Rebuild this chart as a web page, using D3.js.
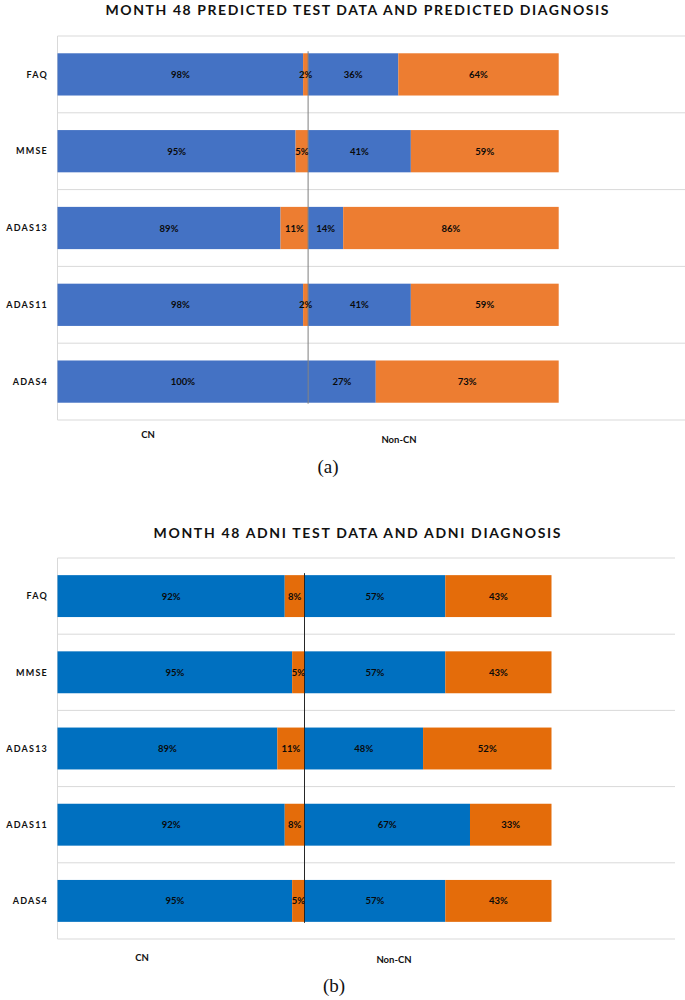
<!DOCTYPE html>
<html>
<head>
<meta charset="utf-8">
<script src="https://cdn.jsdelivr.net/npm/d3@7"></script>
<style>
  body { margin: 0; background: #fff; }
  svg { display: block; }
  text { font-family: Lato, "Open Sans", sans-serif; }
</style>
</head>
<body>
<div id="display"></div>
<script>
// data (percent)
const categories = ["FAQ", "MMSE", "ADAS13", "ADAS11", "ADAS4"];
const groupLabels = ["CN", "Non-CN"];

// chart (a): predicted test data / predicted diagnosis
const predCnAsCn = [98, 95, 89, 98, 100];
const predCnAsNon = [2, 5, 11, 2, 0];
const predNonAsCn = [36, 41, 14, 41, 27];
const predNonAsNon = [64, 59, 86, 59, 73];

// chart (b): ADNI test data / ADNI diagnosis
const adniCnAsCn = [92, 95, 89, 92, 95];
const adniCnAsNon = [8, 5, 11, 8, 5];
const adniNonAsCn = [57, 57, 48, 67, 57];
const adniNonAsNon = [43, 43, 52, 33, 43];

const axisMax = 250;

let svg = d3.select('#display')
    .append('svg')
        .attr('width', 685)
        .attr('height', 1000);

function drawChart(opt) {
    let keys = ['a', 'b', 'c', 'd'];
    let rows = categories.map((c, i) => ({
        cat: c, a: opt.vals[0][i], b: opt.vals[1][i], c: opt.vals[2][i], d: opt.vals[3][i]
    }));
    let stacked = d3.stack().keys(keys)(rows);

    let x = d3.scaleLinear()
        .domain([0, axisMax])
        .range([opt.left, opt.right]);

    let y = d3.scaleBand()
        .domain(categories)
        .range([opt.top, opt.bottom])
        .paddingInner(0.45)
        .paddingOuter(0.225);

    let g = svg.append('g');

    // title
    g.append('text')
        .attr('x', opt.titleX)
        .attr('y', opt.titleY)
        .attr('text-anchor', 'middle')
        .attr('textLength', opt.titleW)
        .attr('lengthAdjust', 'spacing')
        .style('font-size', '14px')
        .style('font-weight', 'bold')
        .style('fill', '#111')
        .text(opt.title);

    // horizontal grid lines at category boundaries
    let step = y.step();
    let bounds = d3.range(categories.length + 1).map(i => opt.top + i * step);
    g.selectAll('.grid')
        .data(bounds)
        .enter()
        .append('line')
            .attr('x1', opt.left)
            .attr('x2', opt.gridEnd)
            .attr('y1', d => d)
            .attr('y2', d => d)
            .style('stroke', '#d9d9d9')
            .style('stroke-width', 1);

    // left axis line
    g.append('line')
        .attr('x1', opt.left).attr('x2', opt.left)
        .attr('y1', opt.top).attr('y2', opt.bottom)
        .style('stroke', '#d9d9d9')
        .style('stroke-width', 1);

    // category labels
    g.selectAll('.cat')
        .data(categories)
        .enter()
        .append('text')
            .attr('x', opt.left - 9.5)
            .attr('y', d => y(d) + y.bandwidth() / 2 + 3.2)
            .attr('text-anchor', 'end')
            .style('font-size', '9px')
            .style('font-weight', 'bold')
            .style('letter-spacing', '1.2px')
            .style('fill', '#111')
            .text(d => d);

    // bars
    let colors = [opt.blue, opt.orange, opt.blue, opt.orange];
    stacked.forEach((layer, k) => {
        let lg = g.append('g');
        lg.selectAll('rect')
            .data(layer)
            .enter()
            .append('rect')
                .attr('x', d => x(d[0]))
                .attr('y', d => y(d.data.cat))
                .attr('width', d => x(d[1]) - x(d[0]))
                .attr('height', y.bandwidth())
                .style('fill', colors[k]);
    });

    // divider line between CN and Non-CN groups
    g.append('line')
        .attr('x1', x(100)).attr('x2', x(100))
        .attr('y1', y(categories[0]) - 2)
        .attr('y2', y(categories[categories.length - 1]) + y.bandwidth() + 1)
        .style('stroke', opt.lineColor)
        .style('stroke-width', 1);

    // value labels
    stacked.forEach(layer => {
        g.append('g').selectAll('text')
            .data(layer.filter(d => d[1] - d[0] > 0))
            .enter()
            .append('text')
                .attr('x', d => (x(d[0]) + x(d[1])) / 2)
                .attr('y', d => y(d.data.cat) + y.bandwidth() / 2 + 3.5)
                .attr('text-anchor', 'middle')
                .style('font-size', '9.5px')
                .style('font-weight', 'bold')
                .style('fill', '#0a0a0a')
                .text(d => (d[1] - d[0]) + '%');
    });

    // group labels under the plot
    groupLabels.forEach((lab, i) => {
        g.append('text')
            .attr('x', opt.groupX[i])
            .attr('y', opt.groupY[i])
            .attr('text-anchor', 'middle')
            .style('font-size', '9.5px')
            .style('font-weight', 'bold')
            .style('fill', '#111')
            .text(lab);
    });

    // sub-figure caption
    g.append('text')
        .attr('x', opt.capX)
        .attr('y', opt.capY)
        .attr('text-anchor', 'middle')
        .style('font-family', '"Liberation Serif", "DejaVu Serif", serif')
        .style('font-size', '19px')
        .style('fill', '#111')
        .text(opt.caption);
}

drawChart({
    title: 'MONTH 48 PREDICTED TEST DATA AND PREDICTED DIAGNOSIS',
    titleX: 357, titleY: 15, titleW: 503,
    vals: [predCnAsCn, predCnAsNon, predNonAsCn, predNonAsNon],
    left: 57.5, right: 684, gridEnd: 685,
    top: 36, bottom: 420,
    blue: '#4472c4', orange: '#ed7d31', lineColor: '#7f7f7f',
    groupX: [148, 399], groupY: [438, 443],
    caption: '(a)', capX: 328, capY: 473
});

drawChart({
    title: 'MONTH 48 ADNI TEST DATA AND ADNI DIAGNOSIS',
    titleX: 357, titleY: 538, titleW: 407,
    vals: [adniCnAsCn, adniCnAsNon, adniNonAsCn, adniNonAsNon],
    left: 57.5, right: 675, gridEnd: 675,
    top: 558, bottom: 939,
    blue: '#0070c0', orange: '#e46c0a', lineColor: '#262626',
    groupX: [142, 394], groupY: [961, 963],
    caption: '(b)', capX: 334, capY: 992
});
</script>
</body>
</html>
